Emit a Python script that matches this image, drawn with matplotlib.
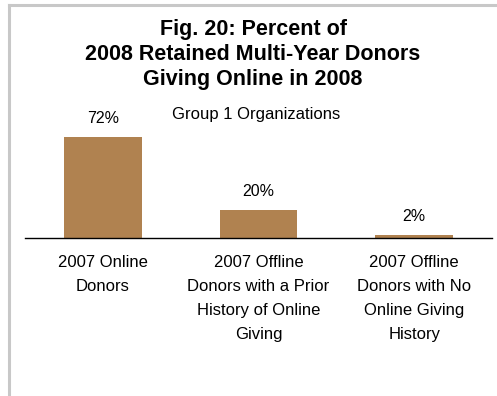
import matplotlib.pyplot as plt
from matplotlib.lines import Line2D

plt.rcParams['font.family'] = ['Liberation Sans', 'DejaVu Sans']

categories = ["2007 Online\nDonors",
              "2007 Offline\nDonors with a Prior\nHistory of Online\nGiving",
              "2007 Offline\nDonors with No\nOnline Giving\nHistory"]
values = [72, 20, 2]
value_labels = ["72%", "20%", "2%"]

W, H = 497, 396
fig = plt.figure(figsize=(W / 100, H / 100), dpi=100)

# plot area in pixel terms: x 25..492, y 98..238
ax = fig.add_axes([25 / W, 1 - 238 / H, (492 - 25) / W, (238 - 98) / H])
x = range(len(values))
ax.bar(x, values, width=0.5, color="#B08250")
ax.set_xlim(-0.5, 2.5)
ax.set_ylim(0, 100)
for xi, v, lab in zip(x, values, value_labels):
    ax.annotate(lab, (xi, v), xytext=(0, 13.5), textcoords="offset points",
                ha="center", va="center", fontsize=11.5)

for s in ["top", "right", "left"]:
    ax.spines[s].set_visible(False)
ax.spines["bottom"].set_linewidth(1.0)
ax.set_yticks([])
ax.set_xticks(list(x))
ax.set_xticklabels(categories, fontsize=12, linespacing=1.75, va="top")
ax.tick_params(axis="x", length=0, pad=12)

fig.text(253 / W, 1 - 54 / H, "Fig. 20: Percent of\n2008 Retained Multi-Year Donors\nGiving Online in 2008",
         ha="center", va="center", fontsize=15.5, fontweight="bold", linespacing=1.25)
fig.text(256 / W, 1 - 114 / H, "Group 1 Organizations", ha="center", va="center", fontsize=12)

# grey frame at top and left
fig.add_artist(Line2D([9 / W, 1], [1 - 5 / H, 1 - 5 / H], color="#C8C8C8", lw=2.2, transform=fig.transFigure))
fig.add_artist(Line2D([9 / W, 9 / W], [0, 1 - 5 / H], color="#C8C8C8", lw=2.2, transform=fig.transFigure))

fig.savefig("out.png", dpi=100)
